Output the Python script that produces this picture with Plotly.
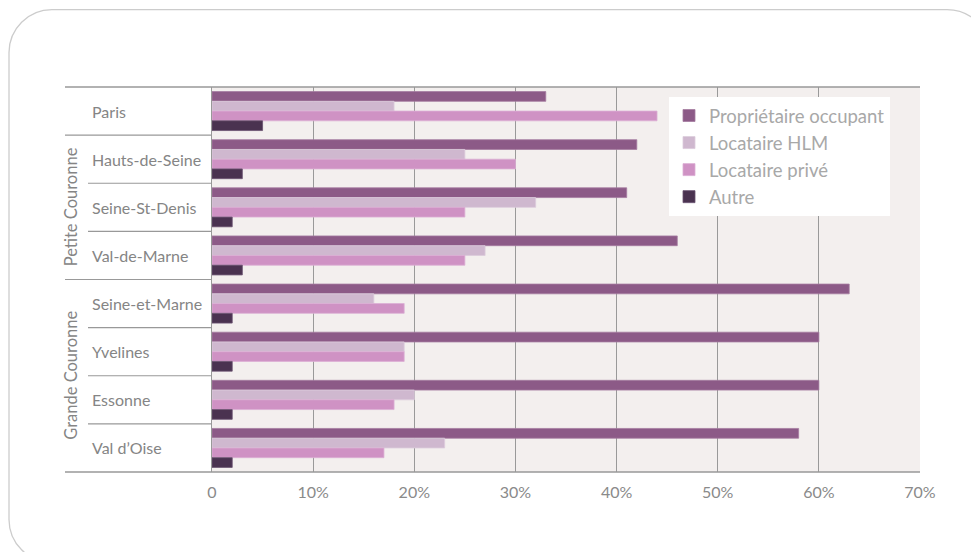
import plotly.graph_objects as go

categories = ["Paris", "Hauts-de-Seine", "Seine-St-Denis", "Val-de-Marne",
              "Seine-et-Marne", "Yvelines", "Essonne", "Val d’Oise"]
proprietaire = [33, 42, 41, 46, 63, 60, 60, 58]
locataire_hlm = [18, 25, 32, 27, 16, 19, 20, 23]
locataire_prive = [44, 30, 25, 25, 19, 19, 18, 17]
autre = [5, 3, 2, 3, 2, 2, 2, 2]
series_names = ["Propriétaire occupant", "Locataire HLM", "Locataire privé", "Autre"]
tick_values = [0, 10, 20, 30, 40, 50, 60, 70]
tick_labels = ["0", "10%", "20%", "30%", "40%", "50%", "60%", "70%"]
groups = [("Petite Couronne", 1, 3), ("Grande Couronne", 4, 7)]

colors = ["#8C5A87", "#CFB8CF", "#CF92C4", "#4A3250"]
edge_colors = ["#A47BA0", "#DCCCDC", "#DCAED4", "#6A5270"]

W, H = 971, 552
L, R, T, B = 212, 920, 87, 472.5
pw, ph = R - L, B - T


def px(x):
    return (x - L) / pw


def py(y):
    return 1 - (y - T) / ph


FONT = "Lato, 'Open Sans', sans-serif"
fig = go.Figure()
for name, vals, c, ec in zip(series_names, [proprietaire, locataire_hlm, locataire_prive, autre], colors, edge_colors):
    fig.add_trace(go.Bar(y=categories, x=vals, name=name, orientation="h",
                         marker=dict(color=c, line=dict(color=ec, width=0.8))))

shapes = []
# outer rounded frame (paper coords, bezier corners)
x0, y0, x1, y1, r = 9, 9.5, 990, 563, 43
k = 0.5523 * r


def P(x, y):
    return f"{px(x):.5f},{py(y):.5f}"


path = (f"M {P(x0 + r, y0)} L {P(x1 - r, y0)} "
        f"C {P(x1 - r + k, y0)} {P(x1, y0 + r - k)} {P(x1, y0 + r)} "
        f"L {P(x1, y1 - r)} "
        f"C {P(x1, y1 - r + k)} {P(x1 - r + k, y1)} {P(x1 - r, y1)} "
        f"L {P(x0 + r, y1)} "
        f"C {P(x0 + r - k, y1)} {P(x0, y1 - r + k)} {P(x0, y1 - r)} "
        f"L {P(x0, y0 + r)} "
        f"C {P(x0, y0 + r - k)} {P(x0 + r - k, y0)} {P(x0 + r, y0)} Z")
shapes.append(dict(type="path", xref="paper", yref="paper", path=path,
                   line=dict(color="#CCCCCC", width=1.3), layer="below"))

# top and bottom lines spanning label area
shapes.append(dict(type="line", xref="paper", yref="paper", x0=px(65), x1=1, y0=1, y1=1,
                   line=dict(color="#999999", width=1.3)))
shapes.append(dict(type="line", xref="paper", yref="paper", x0=px(65), x1=1, y0=0, y1=0,
                   line=dict(color="#999999", width=1.3)))
# separators between categories
group_starts = {g[1] for g in groups}
for i in range(1, len(categories)):
    start = 65 if i in group_starts else 88
    shapes.append(dict(type="line", xref="paper", yref="y", x0=px(start), x1=0,
                       y0=i - 0.5, y1=i - 0.5, line=dict(color="#999999", width=1.1)))

annotations = []
for i, c in enumerate(categories):
    annotations.append(dict(x=px(90), y=c, xref="paper", yref="y", text=c, showarrow=False,
                            xanchor="left", yanchor="middle",
                            font=dict(family=FONT, size=16, color="#858585")))
for gname, a, b in groups:
    annotations.append(dict(x=px(71), y=(a + b) / 2, xref="paper", yref="y", text=gname,
                            showarrow=False, textangle=-90, xanchor="center", yanchor="middle",
                            font=dict(family=FONT, size=16.5, color="#858585")))

fig.update_layout(
    width=W, height=H,
    margin=dict(l=L, r=W - R, t=T, b=H - B),
    paper_bgcolor="white", plot_bgcolor="#F3EFEE",
    barmode="group", bargap=0.19, bargroupgap=0,
    shapes=shapes, annotations=annotations,
    showlegend=True,
    legend=dict(x=px(669), y=py(97), xanchor="left", yanchor="top",
                bgcolor="white", traceorder="normal",
                font=dict(family=FONT, size=18.5, color="#A8A8A8"),
                itemwidth=30, tracegroupgap=0),
    xaxis=dict(range=[0, 70], tickvals=tick_values, ticktext=tick_labels,
               showgrid=True, gridcolor="#999999", gridwidth=1, zeroline=False,
               showline=False, ticks="outside", ticklen=6, tickcolor="rgba(0,0,0,0)",
               tickfont=dict(family=FONT, size=16, color="#8A8A8A")),
    yaxis=dict(autorange="reversed", showticklabels=False, showgrid=False,
               showline=True, linecolor="#999999", linewidth=1.3),
)

fig.write_html("out.html")
